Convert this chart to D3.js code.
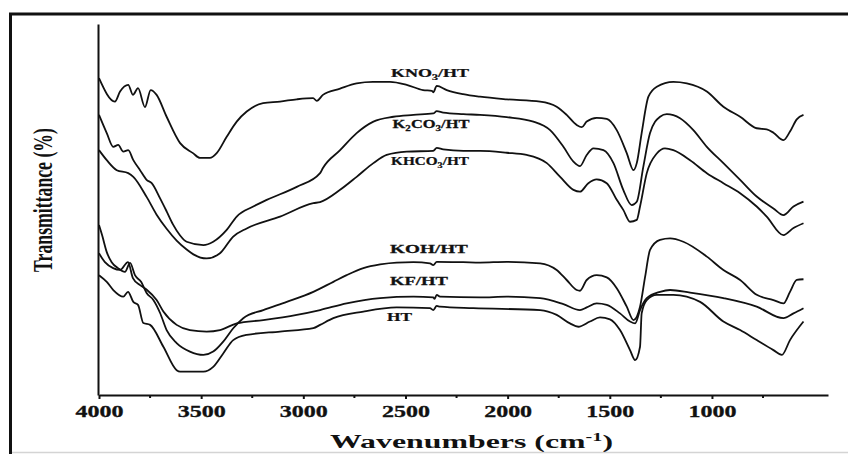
<!DOCTYPE html>
<html><head><meta charset="utf-8">
<script src="https://cdn.jsdelivr.net/npm/d3@7"></script>
<style>html,body{margin:0;padding:0;background:#fff;} svg{display:block;}</style>
</head><body>
<svg id="chart" width="848" height="454"></svg>
<script>
// ---------- data (wavenumber cm-1, transmittance in arbitrary %) ----------
const wavenumberTicks = [4000, 3500, 3000, 2500, 2000, 1500, 1000];
const minorTicks = [3750, 3250, 2750, 2250, 1750, 1250, 750];

const KNO3_HT = [[4000,85.4],[3922,79.1],[3897,81.8],[3857,83.6],[3834,80.9],[3809,82.7],[3775,77.6],[3747,82.2],[3718,80.9],[3669,75.0],[3603,67.9],[3540,65.2],[3506,63.9],[3457,63.9],[3424,65.2],[3375,69.6],[3326,73.7],[3277,76.4],[3197,78.7],[3114,79.1],[3032,79.7],[2952,80.0],[2934,79.3],[2904,80.9],[2820,82.6],[2739,84.0],[2659,84.4],[2576,84.4],[2494,83.6],[2414,82.2],[2371,82.0],[2364,81.6],[2347,83.3],[2298,82.2],[2218,81.1],[2135,80.4],[2004,79.7],[1841,79.1],[1760,77.7],[1711,75.5],[1662,72.8],[1637,72.2],[1613,73.7],[1564,74.7],[1515,74.4],[1466,71.4],[1417,65.2],[1384,60.6],[1368,62.5],[1344,70.6],[1311,80.4],[1270,83.1],[1189,84.4],[1123,84.0],[1025,81.8],[944,77.7],[862,75.0],[781,71.9],[732,71.6],[699,70.7],[650,68.7],[618,71.0],[585,74.3],[552,75.5]];

const K2CO3_HT = [[4000,75.5],[3962,70.6],[3930,66.9],[3906,67.4],[3881,65.6],[3857,66.0],[3832,63.3],[3799,60.6],[3767,58.0],[3742,57.1],[3701,53.0],[3669,49.5],[3638,46.0],[3603,43.0],[3571,41.3],[3489,40.4],[3441,41.3],[3375,44.5],[3326,48.1],[3245,50.8],[3179,52.6],[3032,56.1],[2918,59.8],[2904,61.2],[2820,66.0],[2739,70.6],[2657,73.7],[2559,75.0],[2461,75.5],[2364,75.9],[2347,76.5],[2315,76.1],[2217,75.7],[2135,75.5],[2004,74.9],[1874,73.7],[1792,71.4],[1727,66.9],[1678,62.9],[1646,61.7],[1613,64.7],[1580,66.5],[1531,66.0],[1482,62.5],[1434,55.3],[1393,51.2],[1368,52.1],[1336,61.5],[1303,70.6],[1254,75.0],[1221,75.7],[1156,74.6],[1091,71.4],[1025,66.9],[944,62.5],[862,58.0],[781,53.5],[699,50.3],[650,48.5],[601,50.8],[552,52.1]];

const KHCO3_HT = [[4000,66.0],[3962,63.3],[3913,60.6],[3857,59.8],[3832,58.8],[3767,53.4],[3718,48.6],[3669,44.8],[3620,41.6],[3571,39.2],[3538,37.9],[3473,36.8],[3408,38.2],[3343,42.7],[3277,44.9],[3114,48.1],[2951,51.7],[2918,52.0],[2820,55.3],[2739,58.8],[2657,62.5],[2592,64.7],[2494,65.6],[2364,65.8],[2347,66.6],[2315,66.2],[2217,65.8],[2135,65.8],[2004,65.3],[1907,64.7],[1808,62.5],[1743,58.8],[1678,55.3],[1646,54.8],[1605,57.1],[1564,58.1],[1515,57.1],[1466,52.6],[1434,49.9],[1401,46.7],[1368,47.2],[1352,50.8],[1319,59.8],[1270,65.1],[1230,66.5],[1189,66.0],[1107,63.3],[1025,59.8],[944,57.1],[862,54.4],[781,50.8],[732,48.1],[650,43.1],[601,45.0],[552,46.3]];

const KOH_HT = [[4000,45.8],[3985,43.1],[3962,38.5],[3938,35.8],[3907,34.2],[3873,33.2],[3848,35.6],[3824,32.3],[3794,30.5],[3767,27.5],[3734,25.6],[3701,22.1],[3669,17.5],[3620,14.0],[3555,11.7],[3489,10.8],[3441,11.7],[3392,14.4],[3343,18.0],[3294,20.7],[3196,22.9],[3081,25.1],[2951,27.8],[2853,30.5],[2788,32.3],[2706,34.2],[2624,35.2],[2543,35.7],[2461,35.8],[2380,35.5],[2364,35.0],[2347,35.9],[2217,35.8],[2135,35.7],[2004,35.9],[1841,35.5],[1760,33.7],[1711,31.0],[1662,28.3],[1646,28.1],[1613,31.0],[1564,32.3],[1515,31.7],[1466,28.8],[1417,23.8],[1384,20.2],[1352,23.8],[1327,31.9],[1303,39.1],[1254,41.8],[1205,42.2],[1140,41.3],[1025,37.3],[944,33.7],[862,31.0],[781,27.0],[699,25.6],[650,24.7],[618,27.8],[585,31.0],[552,31.2]];

const KF_HT = [[4000,38.2],[3971,35.8],[3931,34.2],[3897,33.7],[3858,35.8],[3834,31.5],[3799,29.6],[3765,28.3],[3718,25.6],[3685,22.5],[3620,18.9],[3555,17.5],[3473,17.1],[3408,17.5],[3326,19.3],[3196,20.2],[3032,21.6],[2918,22.9],[2788,24.7],[2624,26.1],[2461,26.5],[2364,26.3],[2358,25.9],[2347,27.0],[2331,26.5],[2135,26.3],[2004,26.5],[1841,26.1],[1727,24.5],[1646,22.9],[1613,23.6],[1564,24.7],[1515,24.3],[1450,22.0],[1401,19.8],[1376,19.3],[1352,22.9],[1319,26.1],[1254,27.8],[1205,28.3],[1107,27.6],[944,26.1],[781,23.8],[650,20.7],[601,22.0],[552,23.4]];

const HT = [[4000,32.3],[3962,30.5],[3930,28.3],[3881,26.5],[3858,27.8],[3832,25.1],[3809,24.3],[3783,19.4],[3750,18.9],[3685,13.0],[3620,6.7],[3603,6.3],[3489,6.3],[3441,7.6],[3392,11.2],[3343,14.8],[3277,16.2],[3114,17.1],[2951,18.0],[2918,18.9],[2853,20.7],[2706,22.5],[2543,23.6],[2380,23.4],[2364,22.9],[2347,24.0],[2331,23.8],[2168,23.4],[1841,22.9],[1760,21.6],[1695,19.3],[1654,18.4],[1597,19.8],[1548,20.9],[1499,20.4],[1450,17.5],[1401,12.1],[1376,9.4],[1352,13.0],[1344,22.0],[1319,25.6],[1270,27.0],[1189,27.0],[1058,25.1],[944,19.8],[862,17.5],[781,14.8],[699,12.1],[658,10.8],[618,14.8],[552,19.8]];

const seriesData = [KNO3_HT, K2CO3_HT, KHCO3_HT, KOH_HT, KF_HT, HT];
// label text parts: [text, isSubscript]
const seriesLabels = [
  [["KNO",0],["3",1],["/HT",0]],
  [["K",0],["2",1],["CO",0],["3",1],["/HT",0]],
  [["KHCO",0],["3",1],["/HT",0]],
  [["KOH/HT",0]],
  [["KF/HT",0]],
  [["HT",0]]
];

// ---------- layout ----------
const labelAnchors = [ // [wavenumber at label centre, transmittance at baseline, width px]
  [2380, 85.7, 78],[2375, 72.0, 77],[2380, 62.0, 78],[2385, 38.3, 78],[2434, 29.6, 58],[2529, 19.9, 25]
];
const serif = '"Liberation Serif","Times New Roman",serif';
const svg = d3.select('#chart');

// outer frame
svg.append('rect').attr('x',10.5).attr('y',14).attr('width',860).attr('height',460)
  .attr('fill','none').attr('stroke','#111').attr('stroke-width',3);
svg.append('line').attr('x1',12).attr('x2',848).attr('y1',452.5).attr('y2',452.5)
  .attr('stroke','#d4d4d4').attr('stroke-width',1.5);

const x = d3.scaleLinear().domain([4000, 432]).range([99, 828]);
const y = d3.scaleLinear().domain([0, 100]).range([395, 24]);

function fit(sel, cx, base, width){
  sel.attr('text-anchor','middle').attr('x',0).attr('y',0);
  const w = sel.node().getBBox().width;
  sel.attr('transform',`translate(${cx},${base}) scale(${width/w},1)`);
}

// curves
const line = d3.line().x(d=>x(d[0])).y(d=>y(d[1])).curve(d3.curveMonotoneX);
svg.append('g').selectAll('path').data(seriesData).join('path')
  .attr('d', line).attr('fill','none').attr('stroke','#111')
  .attr('stroke-width',1.8).attr('stroke-linejoin','round');

// x axis
const xAxis = svg.append('g').attr('transform','translate(0,395)')
  .call(d3.axisBottom(x).tickValues(wavenumberTicks).tickSize(4).tickSizeOuter(0).tickFormat(d3.format('d')));
xAxis.select('.domain').attr('stroke','#111').attr('stroke-width',2);
xAxis.selectAll('.tick line').attr('stroke','#111').attr('stroke-width',2);
xAxis.selectAll('.tick text').attr('font-family',serif).attr('font-weight','bold')
  .attr('font-size',16).attr('fill','#111').attr('dy',null)
  .attr('stroke','#111').attr('stroke-width',0.3)
  .each(function(){ fit(d3.select(this), 0, 22, 48); });
xAxis.append('g').selectAll('line').data(minorTicks).join('line')
  .attr('x1',d=>x(d)).attr('x2',d=>x(d)).attr('y1',0).attr('y2',3)
  .attr('stroke','#111').attr('stroke-width',2);

// y axis (no ticks)
const yAxis = svg.append('g').attr('transform','translate(98,0)')
  .call(d3.axisLeft(y).tickValues([]).tickSizeOuter(0));
yAxis.select('.domain').attr('stroke','#111').attr('stroke-width',2);

// series labels
seriesLabels.forEach((parts,i)=>{
  const a = labelAnchors[i];
  const t = svg.append('text').attr('font-family',serif).attr('font-weight','bold')
    .attr('font-size',12).attr('fill','#111').attr('stroke','#111').attr('stroke-width',0.25);
  let prevSub = false;
  parts.forEach(p=>{
    const ts = t.append('tspan').text(p[0]);
    if (p[1]) { ts.attr('font-size',8).attr('dy',3); prevSub = true; }
    else if (prevSub) { ts.attr('dy',-3); prevSub = false; }
  });
  fit(t, x(a[0]), y(a[1]), a[2]);
});

// axis titles
const xt = svg.append('text').attr('font-family',serif).attr('font-weight','bold')
  .attr('font-size',19).attr('fill','#111');
xt.append('tspan').text('Wavenumbers (cm');
xt.append('tspan').text('-1').attr('font-size',12).attr('dy',-7);
xt.append('tspan').text(')').attr('dy',7);
fit(xt, 471.5, 448, 283);

const yt = svg.append('text').attr('font-family',serif).attr('font-weight','bold')
  .attr('font-size',17.6).attr('fill','#111').attr('text-anchor','middle').text('Transmittance (%)');
const yw = yt.node().getBBox().width;
yt.attr('transform',`translate(51.5,200) scale(1.5,1) rotate(-90) scale(${144/yw},1)`);
</script>
</body></html>
